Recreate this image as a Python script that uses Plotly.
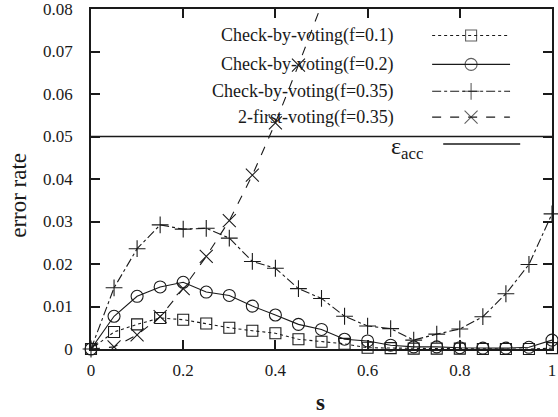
import plotly.graph_objects as go

s = [round(0.05 * i, 2) for i in range(21)]

cbv_01 = [0, 0.0040, 0.0058, 0.0073, 0.0069, 0.0060, 0.0050, 0.0043, 0.0037, 0.0023,
          0.0017, 0.0012, 0.0003, 0.0002, 0.0001, 0.0001, 0.0001, 0.0000, 0.0000, 0.0000, 0.0002]
cbv_02 = [0, 0.0077, 0.0124, 0.0146, 0.0157, 0.0134, 0.0126, 0.0101, 0.0080, 0.0058,
          0.0046, 0.0023, 0.0019, 0.0009, 0.0005, 0.0005, 0.0003, 0.0002, 0.0002, 0.0004, 0.0021]
cbv_035 = [0, 0.0144, 0.0236, 0.0292, 0.0282, 0.0284, 0.0261, 0.0206, 0.0190, 0.0142,
           0.0119, 0.0077, 0.0054, 0.0048, 0.0021, 0.0035, 0.0047, 0.0076, 0.0130, 0.0199, 0.0318]
s_first = s[:11]
first2_035 = [0, 0.0005, 0.0033, 0.0076, 0.0142, 0.0218, 0.0302, 0.0409, 0.0532, 0.0668, 0.0810]
eps_x = [0, 1]
eps_y = [0.05, 0.05]

x_ticks = [0, 0.2, 0.4, 0.6, 0.8, 1]
x_ticklabels = ["0", "0.2", "0.4", "0.6", "0.8", "1"]
y_ticks = [0, 0.01, 0.02, 0.03, 0.04, 0.05, 0.06, 0.07, 0.08]
y_ticklabels = ["0", "0.01", "0.02", "0.03", "0.04", "0.05", "0.06", "0.07", "0.08"]

names = ["Check-by-voting(f=0.1)", "Check-by-voting(f=0.2)",
         "Check-by-voting(f=0.35)", "2-first-voting(f=0.35)"]

FONT = "Liberation Serif"
INK = "#1a1a1a"

series = [
    (s, cbv_01, "dot", "square-open", 11),
    (s, cbv_02, "solid", "circle-open", 12),
    (s, cbv_035, "dashdot", "cross-thin-open", 12),
    (s_first, first2_035, "dash", "x-thin-open", 13),
]

fig = go.Figure()

fig.add_trace(go.Scatter(x=eps_x, y=eps_y, mode="lines",
                         line=dict(color=INK, width=1.3), showlegend=False, hoverinfo="skip"))

for i, (xs, ys, dash, sym, sz) in enumerate(series):
    fig.add_trace(go.Scatter(
        x=xs, y=ys, mode="lines+markers", name=names[i],
        line=dict(color=INK, width=1.1, dash=dash),
        marker=dict(symbol=sym, size=sz, color=INK, line=dict(color=INK, width=1.1)),
        cliponaxis=(i == 3), showlegend=False))

# custom gnuplot-style legend (text left, sample right) on an overlay axis in [0,1]
rows_y = [0.922, 0.837, 0.758, 0.682]
lx0, lx1 = 0.740, 0.909
for i, (xs, ys, dash, sym, sz) in enumerate(series):
    fig.add_trace(go.Scatter(
        x=[lx0, (lx0 + lx1) / 2, lx1], y=[rows_y[i]] * 3, xaxis="x2", yaxis="y2",
        mode="lines+markers",
        line=dict(color=INK, width=1.1, dash=dash),
        marker=dict(symbol=sym, size=[0, sz, 0], color=INK, line=dict(color=INK, width=1.1)),
        showlegend=False, hoverinfo="skip", cliponaxis=False))
    fig.add_annotation(x=0.662, y=rows_y[i], xref="paper", yref="paper",
                       text=names[i], showarrow=False, xanchor="right", yanchor="middle",
                       font=dict(family=FONT, size=18, color=INK))

fig.add_trace(go.Scatter(x=[0.764, 0.931], y=[0.603, 0.603], xaxis="x2", yaxis="y2",
                         mode="lines", line=dict(color=INK, width=1.3),
                         showlegend=False, hoverinfo="skip"))
fig.add_annotation(x=0.7245, y=0.590, xref="paper", yref="paper",
                   text="ε<sub>acc</sub>", showarrow=False, xanchor="right", yanchor="middle",
                   font=dict(family=FONT, size=24, color=INK))

# axis titles
fig.add_annotation(x=-0.158, y=0.451, xref="paper", yref="paper", text="error rate",
                   textangle=-90, showarrow=False, xanchor="center", yanchor="middle",
                   font=dict(family=FONT, size=23, color=INK))
fig.add_annotation(x=0.497, y=-0.158, xref="paper", yref="paper", text="s",
                   showarrow=False, xanchor="center", yanchor="middle",
                   font=dict(family=FONT, size=23, color=INK, weight="bold"))

axis_common = dict(
    showline=True, linecolor=INK, linewidth=1.8, mirror="ticks",
    ticks="inside", ticklen=9, tickwidth=1.6, tickcolor=INK,
    showgrid=False, zeroline=False, ticklabeloverflow="allow", automargin=False,
    tickfont=dict(family=FONT, size=17, color=INK),
)

fig.update_layout(
    width=558, height=417,
    margin=dict(l=91, r=6, t=9, b=68, autoexpand=False),
    paper_bgcolor="white", plot_bgcolor="white",
    xaxis=dict(range=[0, 1], tickmode="array", tickvals=x_ticks, ticktext=x_ticklabels,
               ticklabelstandoff=5, **axis_common),
    yaxis=dict(range=[0, 0.08], tickmode="array", tickvals=y_ticks, ticktext=y_ticklabels,
               ticklabelstandoff=13, **axis_common),
    xaxis2=dict(range=[0, 1], overlaying="x", visible=False, fixedrange=True),
    yaxis2=dict(range=[0, 1], overlaying="y", visible=False, fixedrange=True),
    showlegend=False,
)

fig.write_html("out.html")
